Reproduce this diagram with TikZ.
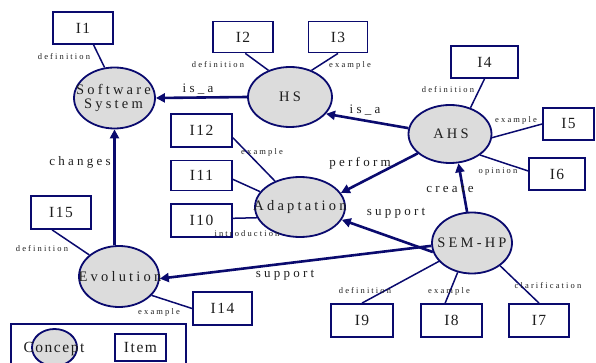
\documentclass[tikz,border=0pt]{standalone}
\usepackage{fontspec}
\setmainfont{Liberation Serif}
\newfontfamily\ellfont{Liberation Serif}[LetterSpace=22]
\newfontfamily\lblfont{Liberation Serif}[LetterSpace=25]
\newfontfamily\smlfont{Liberation Serif}[LetterSpace=25]
\newfontfamily\boxfont{Liberation Serif}[LetterSpace=10]
\usetikzlibrary{shapes.geometric,arrows.meta}
\definecolor{navy}{RGB}{10,10,110}
\definecolor{cfill}{RGB}{220,220,220}
\definecolor{txt}{RGB}{30,30,30}
\tikzset{
  concept/.style={ellipse,draw=navy,line width=1.8pt,fill=cfill,inner sep=0pt},
  ctext/.style={inner sep=0pt,text=txt,font=\ellfont\fontsize{14.5}{13}\selectfont,align=center},
  item/.style={rectangle,draw=navy,line width=1.8pt,fill=white,inner sep=0pt,
    text=txt,font=\boxfont\fontsize{15.5}{16}\selectfont},
  rel/.style={draw=navy,line width=2.6pt,-{Triangle[length=9pt,width=9pt]}},
  link/.style={draw=navy,line width=1.5pt},
  lbl/.style={inner sep=0pt,text=txt,font=\lblfont\fontsize{13}{14}\selectfont},
  sml/.style={inner sep=0pt,text=txt,font=\smlfont\fontsize{8.5}{9}\selectfont}
}
\begin{document}
\begin{tikzpicture}[x=1pt,y=-1pt]
\useasboundingbox (0,0) rectangle (596,363);
% concepts
\node[concept,minimum width=81pt,minimum height=61pt] (ss) at (114.5,98) {};
\node[concept,minimum width=84pt,minimum height=60pt] (hs) at (290,97) {};
\node[concept,minimum width=83pt,minimum height=58pt] (ahs) at (450,134) {};
\node[concept,minimum width=90pt,minimum height=60pt] (ad) at (300,207) {};
\node[concept,minimum width=80pt,minimum height=61pt] (evo) at (119,276.5) {};
\node[concept,minimum width=80pt,minimum height=61pt] (sem) at (472,243) {};
\node[ctext] (ssa) at (113.5,89.5) {Software};
\node[ctext] (ssb) at (113.5,105) {System};
\node[ctext] (hst) at (290,97) {HS};
\node[ctext] (ahst) at (451,134) {AHS};
\node[ctext] (adt) at (300,207) {Adaptation};
\node[ctext] (evot) at (120,277) {Evolution};
\node[ctext] (semt) at (472,243) {SEM-HP};
% items
\node[item,minimum width=60pt,minimum height=32pt] (i1) at (83,28) {I1};
\node[item,minimum width=60pt,minimum height=31pt] (i2) at (243,37) {I2};
\node[item,minimum width=59pt,minimum height=31pt] (i3) at (338,37) {I3};
\node[item,minimum width=67pt,minimum height=32pt] (i4) at (484.5,62) {I4};
\node[item,minimum width=51pt,minimum height=32pt] (i5) at (568.5,124) {I5};
\node[item,minimum width=56pt,minimum height=32pt] (i6) at (557,174) {I6};
\node[item,minimum width=61pt,minimum height=33pt] (i12) at (201.5,130.5) {I12};
\node[item,minimum width=61pt,minimum height=30pt] (i11) at (201.5,175.5) {I11};
\node[item,minimum width=61pt,minimum height=33pt] (i10) at (201.5,220.5) {I10};
\node[item,minimum width=60pt,minimum height=33pt] (i15) at (61,212.5) {I15};
\node[item,minimum width=59pt,minimum height=33pt] (i14) at (222.5,308.5) {I14};
\node[item,minimum width=62pt,minimum height=33pt] (i9) at (362,320.5) {I9};
\node[item,minimum width=61pt,minimum height=33pt] (i8) at (451.5,320.5) {I8};
\node[item,minimum width=60pt,minimum height=33pt] (i7) at (539,320.5) {I7};
% relations
\draw[rel] (hs.west) -- (ss.east);
\draw[rel] (ahs.172) -- (hs.-25);
\draw[rel] (ahs.-149) -- (ad.19);
\draw[rel] (sem.99) -- (ahs.-74);
\draw[rel] (sem.-167) -- (ad.-17);
\draw[rel] (sem.-176) -- (evo.-3);
\draw[rel] (evo.north -| ss) -- (ss.south);
% item links
\draw[link] (i1.-58) -- (ss.108);
\draw[link] (i2.-82) -- (hs.129);
\draw[link] (i3.south) -- (hs.51);
\draw[link] (i4.south) -- (ahs.52);
\draw[link] (i5.west) -- (ahs.-5);
\draw[link] (i6.174) -- (ahs.-35);
\draw[link] (i12.-13) -- (ad.134);
\draw[link] (i11.-7) -- (ad.159);
\draw[link] (i10.4) -- (ad.-166);
\draw[link] (i15.-117) -- (evo.144);
\draw[link] (i14.west) -- (evo.-30);
\draw[link] (i9.north) -- (sem.-151);
\draw[link] (i8.110) -- (sem.-116);
\draw[link] (i7.north) -- (sem.-39);
% relation labels
\node[lbl] (l1) at (198,89) {is\_a};
\node[lbl] (l2) at (365,110) {is\_a};
\node[lbl] (l3) at (360,163) {perform};
\node[lbl] (l4) at (450,189) {create};
\node[lbl] (l5) at (396,213) {support};
\node[lbl] (l6) at (285,275) {support};
\node[lbl] (l7) at (80,162) {changes};
% item labels
\node[sml] (s1) at (64,57) {definition};
\node[sml] (s2) at (218,65) {definition};
\node[sml] (s3) at (350,65) {example};
\node[sml] (s4) at (448,90) {definition};
\node[sml] (s5) at (516,120) {example};
\node[sml] (s6) at (498,172) {opinion};
\node[sml] (s7) at (262,152) {example};
\node[sml] (s8) at (247,234) {introduction};
\node[sml] (s9) at (42,249) {definition};
\node[sml] (s10) at (159,312) {example};
\node[sml] (s11) at (365,291) {definition};
\node[sml] (s12) at (449,291) {example};
\node[sml] (s13) at (548,286) {clarification};
% legend
\node[draw=navy,line width=1.5pt,minimum width=175pt,minimum height=50pt,inner sep=0pt] (leg) at (98.5,349) {};
\node[concept,minimum width=45pt,minimum height=37pt] (lc) at (54.5,347.5) {};
\node[text=txt,font=\boxfont\fontsize{15.5}{16}\selectfont,inner sep=0pt] (lct) at (54,349) {Concept};
\node[item,minimum width=51pt,minimum height=27pt] (li) at (140.5,347.5) {Item};
\end{tikzpicture}
\end{document}
